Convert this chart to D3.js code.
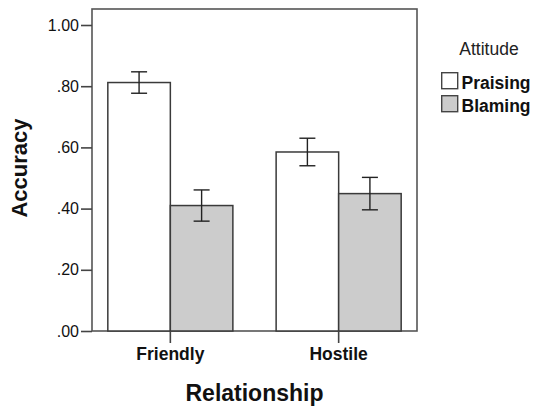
<!DOCTYPE html>
<html>
<head>
<meta charset="utf-8">
<script src="https://cdn.jsdelivr.net/npm/d3@7"></script>
<style>
  html, body { margin: 0; padding: 0; background: #fff; }
  svg { display: block; font-family: "Liberation Sans", Arial, sans-serif; }
</style>
</head>
<body>
<svg id="chart" width="538" height="408"></svg>
<script>
// Mean accuracy by relationship and attitude, with error bars
const categories = ["Friendly", "Hostile"];
const seriesNames = ["Praising", "Blaming"];
const praisingMeans = [0.812, 0.585];
const blamingMeans = [0.410, 0.449];
const praisingErr = [0.035, 0.045];
const blamingErr = [0.051, 0.053];
const yTicks = [0, 0.2, 0.4, 0.6, 0.8, 1.0];
const seriesFill = ["#ffffff", "#cccccc"];

const rows = categories.map((c, i) => ({
  category: c,
  bars: [
    { series: seriesNames[0], value: praisingMeans[i], err: praisingErr[i] },
    { series: seriesNames[1], value: blamingMeans[i], err: blamingErr[i] }
  ]
}));

const svg = d3.select("#chart");
const plot = { left: 92, right: 417, top: 9, bottom: 331 };

const y = d3.scaleLinear().domain([0, 1]).range([plot.bottom, 25]);
const x0 = d3.scaleBand().domain(categories)
  .range([plot.left, plot.right]).paddingInner(0.257).paddingOuter(0.094);
const x1 = d3.scaleBand().domain(seriesNames).range([0, x0.bandwidth()]);
const color = d3.scaleOrdinal().domain(seriesNames).range(seriesFill);

// plot frame
svg.append("rect")
  .attr("x", plot.left).attr("y", plot.top)
  .attr("width", plot.right - plot.left).attr("height", plot.bottom - plot.top)
  .attr("fill", "none").attr("stroke", "#555").attr("stroke-width", 1.6);

// bars
const groups = svg.append("g").selectAll("g").data(rows).join("g")
  .attr("transform", d => `translate(${x0(d.category)},0)`);

groups.selectAll("rect").data(d => d.bars).join("rect")
  .attr("x", d => x1(d.series))
  .attr("y", d => y(d.value))
  .attr("width", x1.bandwidth())
  .attr("height", d => y(0) - y(d.value))
  .attr("fill", d => color(d.series))
  .attr("stroke", "#3a3a3a").attr("stroke-width", 1.5);

// error bars
const capHalf = 8;
const eb = groups.selectAll("g.err").data(d => d.bars).join("g").attr("class", "err")
  .attr("stroke", "#222").attr("stroke-width", 1.4);
eb.append("line")
  .attr("x1", d => x1(d.series) + x1.bandwidth() / 2)
  .attr("x2", d => x1(d.series) + x1.bandwidth() / 2)
  .attr("y1", d => y(d.value + d.err)).attr("y2", d => y(d.value - d.err));
eb.append("line")
  .attr("x1", d => x1(d.series) + x1.bandwidth() / 2 - capHalf)
  .attr("x2", d => x1(d.series) + x1.bandwidth() / 2 + capHalf)
  .attr("y1", d => y(d.value + d.err)).attr("y2", d => y(d.value + d.err));
eb.append("line")
  .attr("x1", d => x1(d.series) + x1.bandwidth() / 2 - capHalf)
  .attr("x2", d => x1(d.series) + x1.bandwidth() / 2 + capHalf)
  .attr("y1", d => y(d.value - d.err)).attr("y2", d => y(d.value - d.err));

// y axis
const fmt = v => d3.format(".2f")(v).replace(/^0/, "");
const yAxis = svg.append("g").attr("transform", `translate(${plot.left},0)`)
  .call(d3.axisLeft(y).tickValues(yTicks).tickFormat(fmt).tickSize(11).tickPadding(2));
yAxis.select(".domain").remove();
yAxis.selectAll(".tick line").attr("stroke", "#444").attr("stroke-width", 1.6);
yAxis.selectAll(".tick text").attr("font-size", 16).attr("fill", "#111")
  .attr("font-family", "Liberation Sans, Arial, sans-serif");

// x axis
const xAxis = svg.append("g").attr("transform", `translate(0,${plot.bottom})`)
  .call(d3.axisBottom(x0).tickSize(12).tickPadding(5));
xAxis.select(".domain").remove();
xAxis.selectAll(".tick line").attr("stroke", "#444").attr("stroke-width", 1.6);
xAxis.selectAll(".tick text").attr("font-size", 17.5).attr("font-weight", "bold")
  .attr("fill", "#111").attr("font-family", "Liberation Sans, Arial, sans-serif");

// axis titles
svg.append("text")
  .attr("x", (plot.left + plot.right) / 2 + 0).attr("y", 401)
  .attr("text-anchor", "middle").attr("font-size", 23).attr("font-weight", "bold")
  .attr("fill", "#111").text("Relationship");
svg.append("text")
  .attr("transform", "translate(27,168) rotate(-90)")
  .attr("text-anchor", "middle").attr("font-size", 22).attr("font-weight", "bold")
  .attr("fill", "#111").text("Accuracy");

// legend
const legend = svg.append("g");
legend.append("text").attr("x", 489).attr("y", 55)
  .attr("text-anchor", "middle").attr("font-size", 17.5).attr("fill", "#222").text("Attitude");
const items = legend.selectAll("g.item").data(seriesNames).join("g").attr("class", "item")
  .attr("transform", (d, i) => `translate(441,${72 + i * 23})`);
items.append("rect").attr("x", 0.7).attr("y", 0.7).attr("width", 16).attr("height", 16)
  .attr("fill", d => color(d)).attr("stroke", "#444").attr("stroke-width", 1.4);
items.append("text").attr("x", 20.5).attr("y", 17)
  .attr("font-size", 17.5).attr("font-weight", "bold").attr("fill", "#111").text(d => d);
</script>
</body>
</html>
